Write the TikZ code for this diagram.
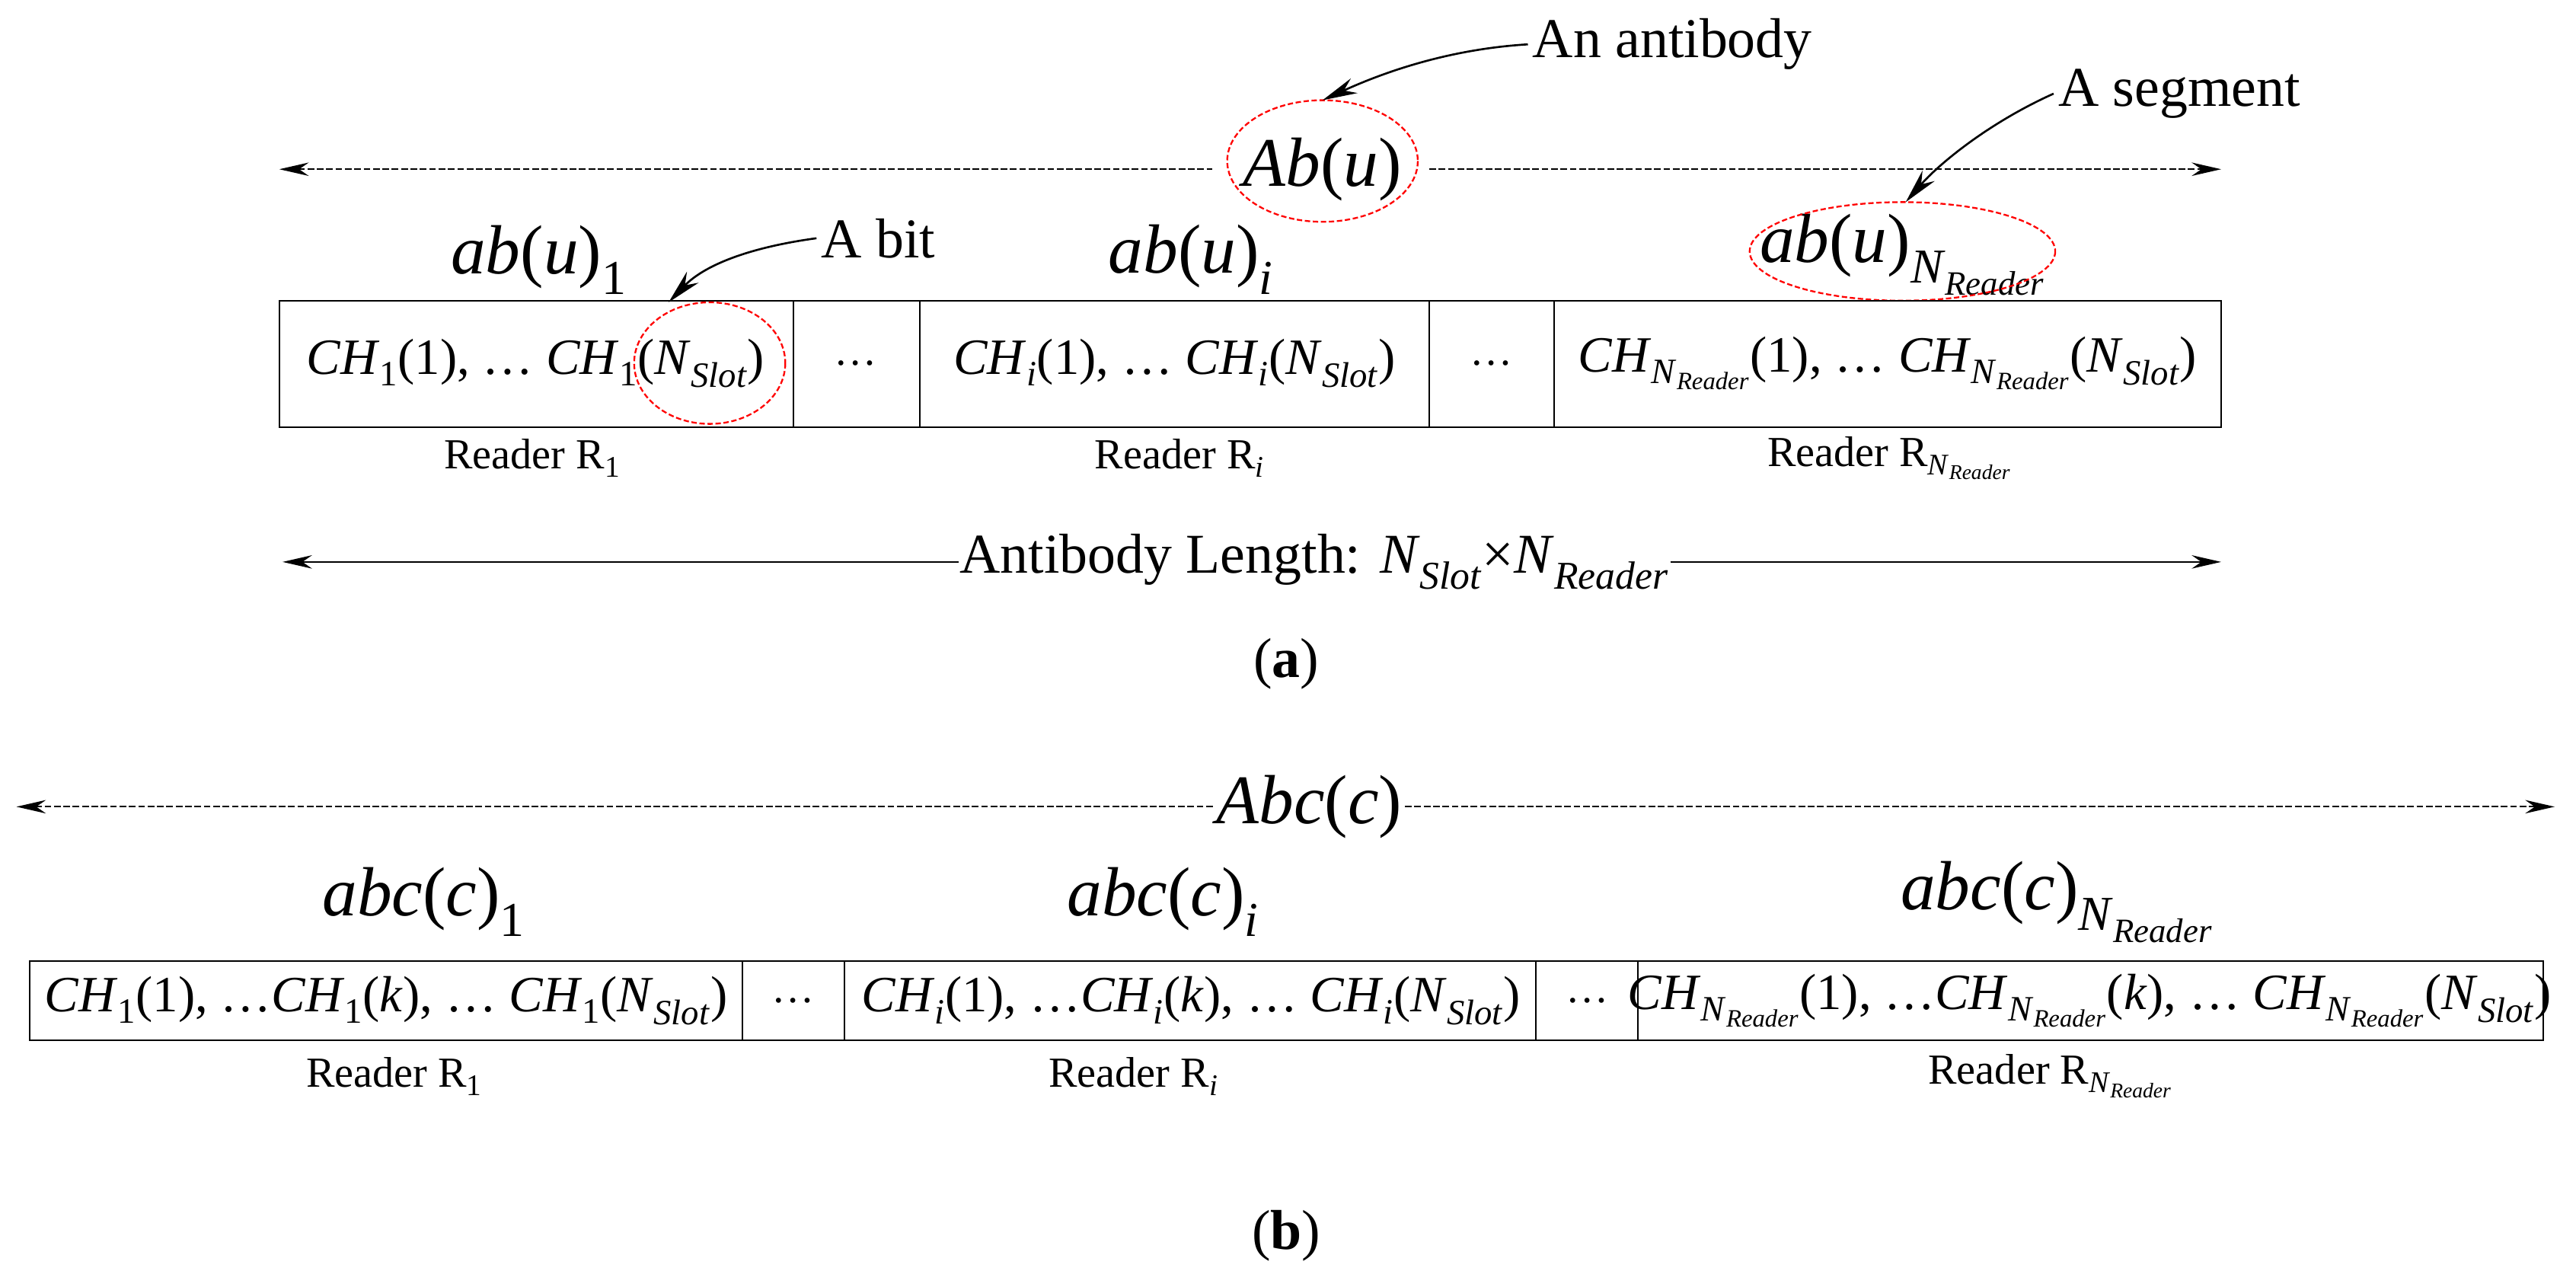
\documentclass[tikz,border=0pt]{standalone}
\usepackage{fontspec}
\setmainfont{Liberation Serif}
\usetikzlibrary{arrows.meta}
\newcommand{\myit}[1]{\textit{#1}}
\newcommand{\mysb}[1]{\textsubscript{#1}}
\newcommand{\NR}{\textit{N}\textsubscript{\textit{Reader}}}
\newcommand{\NS}{\textit{N}\textsubscript{\textit{Slot}}}
\tikzset{mtip/.tip={Stealth[length=22pt,width=10pt]}}
\begin{document}
\begin{tikzpicture}[x=0.04315cm,y=-0.04315cm,
  big/.style={font=\fontsize{52}{58}\selectfont},
  mid/.style={font=\fontsize{42}{48}\selectfont},
  cell/.style={font=\fontsize{38}{44}\selectfont},
  rd/.style={font=\fontsize{32}{38}\selectfont},
  box/.style={draw=black,line width=1.2pt},
  dsh/.style={line width=1.3pt,dash pattern=on 5pt off 2pt},
  sol/.style={line width=1.3pt},
  red/.style={draw=red,line width=1.3pt,dash pattern=on 4pt off 2pt},
  call/.style={line width=1.5pt,-{Stealth[length=26pt,width=12pt]}}]
\useasboundingbox (0,0) rectangle (1568,783);
% ---------- (a)
\coordinate (tl) at (170,103); \coordinate (tr) at (1352,103);
\node[big,inner sep=0pt] (Ab) at (805,103) {\myit{Ab}(\myit{u})};
\draw[red] (805,98) ellipse [x radius=58,y radius=37];
\coordinate (AbTop) at (805,61);
\coordinate (g1) at (738,103); \coordinate (g2) at (870,103);
\draw[dsh,{mtip}-] (tl) -- (g1);
\draw[dsh,-{mtip}] (g2) -- (tr);
\node[mid,anchor=west] (anti) at (930,27) {An antibody};
\draw[call] (anti.west) .. controls (880,30) and (840,45) .. (AbTop);
\node[mid,anchor=west] (seg) at (1250,57) {A segment};
\node[big] (abN) at (1158,155) {\myit{ab}(\myit{u})\mysb{\NR}};
\draw[red] (1158,153) ellipse [x radius=93,y radius=30];
\coordinate (segT) at (1160,123);
\draw[call] (seg.west) .. controls (1210,75) and (1180,100) .. (segT);
\node[big] (ab1) at (328,158) {\myit{ab}(\myit{u})\mysb{1}};
\node[big] (abi) at (725,158) {\myit{ab}(\myit{u})\mysb{\myit{i}}};
\node[mid,anchor=west] (abit) at (497,145) {A bit};
\coordinate (bitT) at (407,184);
\draw[call] (abit.west) .. controls (460,150) and (430,160) .. (bitT);
\draw[box] (170,183) rectangle (1352,260);
\foreach \x in {483,560,870,946} \draw[box] (\x,183) -- (\x,260);
\node[cell] (c1) at (326,221) {\myit{CH}\mysb{1}(1), … \myit{CH}\mysb{1}(\NS)};
\draw[red] (432,221) ellipse [x radius=46,y radius=37];
\node[rd] (d1) at (521,221) {…};
\node[cell] (ci) at (715,221) {\myit{CH}\mysb{\myit{i}}(1), … \myit{CH}\mysb{\myit{i}}(\NS)};
\node[rd] (d2) at (908,221) {…};
\node[cell] (cN) at (1149,221) {\myit{CH}\mysb{\NR}(1), … \myit{CH}\mysb{\NR}(\NS)};
\node[rd] (r1) at (324,279) {Reader R\mysb{1}};
\node[rd] (ri) at (718,279) {Reader R\mysb{\myit{i}}};
\node[rd] (rN) at (1150,279) {Reader R\mysb{\NR}};
\node[mid,inner sep=1pt] (len) at (800,342) {Antibody Length: \NS×\NR};
\coordinate (ll) at (172,342); \coordinate (lr) at (1352,342);
\draw[sol,{mtip}-] (ll) -- (len.west);
\draw[sol,-{mtip}] (len.east) -- (lr);
\node[mid] (la) at (783,404) {(\textbf{a})};
% ---------- (b)
\node[big,inner sep=2pt] (Abc) at (797,491) {\myit{Abc}(\myit{c})};
\coordinate (bl) at (10,491); \coordinate (br) at (1555,491);
\draw[dsh,{mtip}-] (bl) -- (Abc.west);
\draw[dsh,-{mtip}] (Abc.east) -- (br);
\node[big] (abc1) at (258,549) {\myit{abc}(\myit{c})\mysb{1}};
\node[big] (abci) at (708,549) {\myit{abc}(\myit{c})\mysb{\myit{i}}};
\node[big] (abcN) at (1252,549) {\myit{abc}(\myit{c})\mysb{\NR}};
\draw[box] (18,585) rectangle (1548,633);
\foreach \x in {452,514,935,997} \draw[box] (\x,585) -- (\x,633);
\node[cell] (b1) at (235,609) {\myit{CH}\mysb{1}(1), …\myit{CH}\mysb{1}(\myit{k}), … \myit{CH}\mysb{1}(\NS)};
\node[rd] (bd1) at (483,609) {…};
\node[cell] (bi) at (725,609) {\myit{CH}\mysb{\myit{i}}(1), …\myit{CH}\mysb{\myit{i}}(\myit{k}), … \myit{CH}\mysb{\myit{i}}(\NS)};
\node[rd] (bd2) at (966,609) {…};
\node[cell] (bN) at (1272,609) {\myit{CH}\mysb{\NR}(1), …\myit{CH}\mysb{\NR}(\myit{k}), … \myit{CH}\mysb{\NR}(\NS)};
\node[rd] (br1) at (240,655) {Reader R\mysb{1}};
\node[rd] (bri) at (690,655) {Reader R\mysb{\myit{i}}};
\node[rd] (brN) at (1248,655) {Reader R\mysb{\NR}};
\node[mid] (lb) at (783,752) {(\textbf{b})};
\end{tikzpicture}
\end{document}
